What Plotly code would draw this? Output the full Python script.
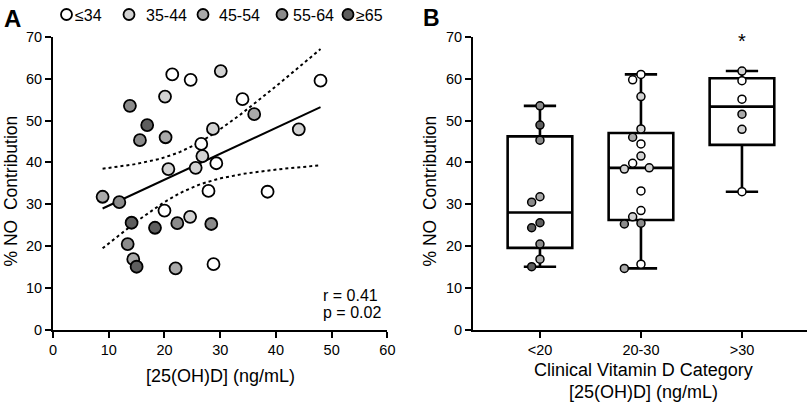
import numpy as np
import plotly.graph_objects as go

# ---------------- data ----------------
vitd = [21.4, 24.7, 30.1, 13.8, 20.1, 16.9, 15.6, 20.2, 28.7, 26.6, 26.8,
        29.3, 20.7, 25.6, 34.0, 36.1, 48.0, 44.1, 38.5, 8.9, 11.9, 20.0,
        24.6, 27.9, 14.1, 18.3, 22.3, 28.4, 13.4, 14.4, 15.0, 22.0, 28.8]
no_contrib = [61.0, 59.7, 61.8, 53.5, 55.7, 48.9, 45.3, 46.0, 48.0, 44.4, 41.5,
              39.8, 38.4, 38.7, 55.1, 51.5, 59.5, 47.9, 33.0, 31.8, 30.5, 28.5,
              27.0, 33.2, 25.6, 24.4, 25.5, 25.3, 20.5, 16.9, 15.1, 14.7, 15.7]
age_group = ["≤34", "≤34", "35-44", "55-64", "35-44", "≥65", "55-64", "45-54", "35-44", "≤34", "35-44",
             "≤34", "35-44", "35-44", "≤34", "45-54", "≤34", "35-44", "≤34", "45-54", "55-64", "≤34",
             "35-44", "≤34", "≥65", "≥65", "55-64", "55-64", "55-64", "45-54", "≥65", "45-54", "≤34"]
age_labels = ["≤34", "35-44", "45-54", "55-64", "≥65"]
age_colors = ["#ffffff", "#d2d2d2", "#a9a9a9", "#8b8b8b", "#5e5e5e"]
categories = ["<20", "20-30", ">30"]
x_ticks_a = [0, 10, 20, 30, 40, 50, 60]
y_ticks = [0, 10, 20, 30, 40, 50, 60, 70]
stat_text = ["r = 0.41", "p = 0.02"]
t_crit = 2.04  # t(0.975, df=31)

# ---------------- layout geometry (pixels) ----------------
W, H = 810, 407
AX0, AX1 = 53.0, 387.4
BX0, BX1 = 473.0, 807.0
Y0PX, Y1PX = 330.0, 36.7
B_RANGE = [-0.663, 2.644]
dom_y = [1 - Y0PX / H, 1 - Y1PX / H]
px_per_y = (Y0PX - Y1PX) / 70.0
px_per_cat = (BX1 - BX0) / (B_RANGE[1] - B_RANGE[0])

color_of = dict(zip(age_labels, age_colors))
pt_colors = [color_of[a] for a in age_group]

REG = "Liberation Sans, Arial, sans-serif"

fig = go.Figure()

# ---------- Panel A: regression + CI ----------
xv = np.array(vitd)
yv = np.array(no_contrib)
n = len(xv)
slope, intercept = np.polyfit(xv, yv, 1)
xs = np.linspace(xv.min(), xv.max(), 60)
yfit = intercept + slope * xs
resid = yv - (intercept + slope * xv)
s = np.sqrt(np.sum(resid ** 2) / (n - 2))
se = s * np.sqrt(1.0 / n + (xs - xv.mean()) ** 2 / np.sum((xv - xv.mean()) ** 2))
for band in (yfit + t_crit * se, yfit - t_crit * se):
    fig.add_trace(go.Scatter(x=xs, y=band, mode="lines", xaxis="x", yaxis="y",
                             line=dict(color="black", width=2, dash="dot"),
                             showlegend=False, hoverinfo="skip"))
fig.add_trace(go.Scatter(x=xs, y=yfit, mode="lines", xaxis="x", yaxis="y",
                         line=dict(color="black", width=2), showlegend=False, hoverinfo="skip"))

fig.add_trace(go.Scatter(x=vitd, y=no_contrib, mode="markers", xaxis="x", yaxis="y",
                         marker=dict(size=12, color=pt_colors, line=dict(color="black", width=1.8)),
                         showlegend=False))

# ---------- Panel B: categories ----------
def cat_index(v):
    if v < 20:
        return 0
    if v <= 30:
        return 1
    return 2

cat_idx = [cat_index(v) for v in vitd]

def swarm(vals, d_px=9.6, step_px=8.3):
    order = np.argsort(-np.array(vals))
    placed = []
    offs = np.zeros(len(vals))
    for i in order:
        ypix = vals[i] * px_per_y
        dx = 0.0
        for k in [0, -1, 1, -2, 2, -3, 3, -4, 4]:
            dx = k * step_px
            if all((dx - p) ** 2 + (ypix - q) ** 2 >= d_px ** 2 for p, q in placed):
                break
        placed.append((dx, ypix))
        offs[i] = dx
    return offs

bx, by, bc = [], [], []
for ci, cname in enumerate(categories):
    idx = [i for i in range(n) if cat_idx[i] == ci]
    vals = [no_contrib[i] for i in idx]
    q1, med, q3 = np.percentile(vals, [25, 50, 75], method="weibull")
    fig.add_trace(go.Box(x=[ci], q1=[q1], median=[med], q3=[q3],
                         lowerfence=[min(vals)], upperfence=[max(vals)],
                         xaxis="x2", yaxis="y2", width=0.64, whiskerwidth=0.5,
                         line=dict(color="black", width=2.6), fillcolor="rgba(255,255,255,0)",
                         boxpoints=False, showlegend=False, hoverinfo="skip"))
    offs = swarm(vals)
    for j, i in enumerate(idx):
        bx.append(ci + offs[j] / px_per_cat)
        by.append(no_contrib[i])
        bc.append(pt_colors[i])

fig.add_trace(go.Scatter(x=bx, y=by, mode="markers", xaxis="x2", yaxis="y2",
                         marker=dict(size=8, color=bc, line=dict(color="black", width=1.5)),
                         showlegend=False))

# ---------- axes ----------
tickfont = dict(family=REG, size=14.5, color="black")
common_y = dict(range=[0, 70], tickvals=y_ticks, ticks="outside", ticklen=6, tickwidth=1.8,
                tickcolor="black", showline=True, linecolor="black", linewidth=2,
                showgrid=False, zeroline=False, tickfont=tickfont, domain=dom_y,
                fixedrange=True, automargin=False)
fig.update_layout(
    width=W, height=H, margin=dict(l=0, r=0, t=0, b=0, pad=0, autoexpand=False),
    paper_bgcolor="white", plot_bgcolor="white",
    xaxis=dict(domain=[AX0 / W, AX1 / W], range=[0, 60], tickvals=x_ticks_a, ticks="outside",
               ticklen=6, tickwidth=1.8, tickcolor="black", showline=True, linecolor="black",
               linewidth=2, showgrid=False, zeroline=False, tickfont=tickfont, anchor="y",
               automargin=False),
    yaxis=dict(anchor="x", **common_y),
    xaxis2=dict(domain=[BX0 / W, BX1 / W], range=B_RANGE, tickvals=[0, 1, 2], ticktext=categories,
                ticks="outside", ticklen=6, tickwidth=1.8, tickcolor="black", showline=True,
                linecolor="black", linewidth=1.8, showgrid=False, zeroline=False,
                tickfont=tickfont, anchor="y2", automargin=False),
    yaxis2=dict(anchor="x2", **common_y),
    showlegend=False,
)

ann = []
# panel letters
ann.append(dict(text="<b>A</b>", x=2 / W, y=1 - 3 / H, xref="paper", yref="paper",
                xanchor="left", yanchor="top", showarrow=False,
                font=dict(family=REG, size=24, color="black")))
ann.append(dict(text="<b>B</b>", x=421 / W, y=1 - 3 / H, xref="paper", yref="paper",
                xanchor="left", yanchor="top", showarrow=False,
                font=dict(family=REG, size=23, color="black")))
# axis titles
for xc in (11 / W, 430 / W):
    ann.append(dict(text="% NO  Contribution", x=xc, y=(dom_y[0] + dom_y[1]) / 2 - 0.02,
                    xref="paper", yref="paper", textangle=-90, showarrow=False,
                    xanchor="center", yanchor="middle",
                    font=dict(family=REG, size=17.5, color="black")))
ann.append(dict(text="[25(OH)D] (ng/mL)", x=220 / W, y=1 - 376 / H, xref="paper", yref="paper",
                showarrow=False, xanchor="center", yanchor="middle",
                font=dict(family=REG, size=18, color="black")))
ann.append(dict(text="Clinical Vitamin D Category", x=643 / W, y=1 - 370 / H, xref="paper",
                yref="paper", showarrow=False, xanchor="center", yanchor="middle",
                font=dict(family=REG, size=18, color="black")))
ann.append(dict(text="[25(OH)D] (ng/mL)", x=643 / W, y=1 - 392 / H, xref="paper",
                yref="paper", showarrow=False, xanchor="center", yanchor="middle",
                font=dict(family=REG, size=18, color="black")))
# stats text
for k, t in enumerate(stat_text):
    ann.append(dict(text=t, x=321 / W, y=1 - (295 + 17.5 * k) / H, xref="paper", yref="paper",
                    showarrow=False, xanchor="left", yanchor="middle",
                    font=dict(family=REG, size=16, color="black")))
# significance star
ann.append(dict(text="*", x=2, y=69, xref="x2", yref="y2", showarrow=False,
                xanchor="center", yanchor="middle", font=dict(family=REG, size=20, color="black")))

# legend (manual, top of panel A)
leg_cx = [66.5, 129, 203, 282, 348]
leg_tx = [73, 144, 217, 291, 354]
shapes = []
for lab, col, cx, tx in zip(age_labels, age_colors, leg_cx, leg_tx):
    shapes.append(dict(type="circle", xref="paper", yref="paper", xsizemode="pixel",
                       ysizemode="pixel", xanchor=cx / W, yanchor=1 - 14.5 / H,
                       x0=-5.5, x1=5.5, y0=-5.5, y1=5.5,
                       line=dict(color="black", width=1.8), fillcolor=col))
    ann.append(dict(text=lab, x=tx / W, y=1 - 15 / H, xref="paper", yref="paper",
                    showarrow=False, xanchor="left", yanchor="middle",
                    font=dict(family=REG, size=16, color="black")))

fig.update_layout(annotations=ann, shapes=shapes)
fig.write_html("out.html", config={"displayModeBar": False},
               post_script="document.body.style.margin='0';document.body.style.overflow='hidden';")
